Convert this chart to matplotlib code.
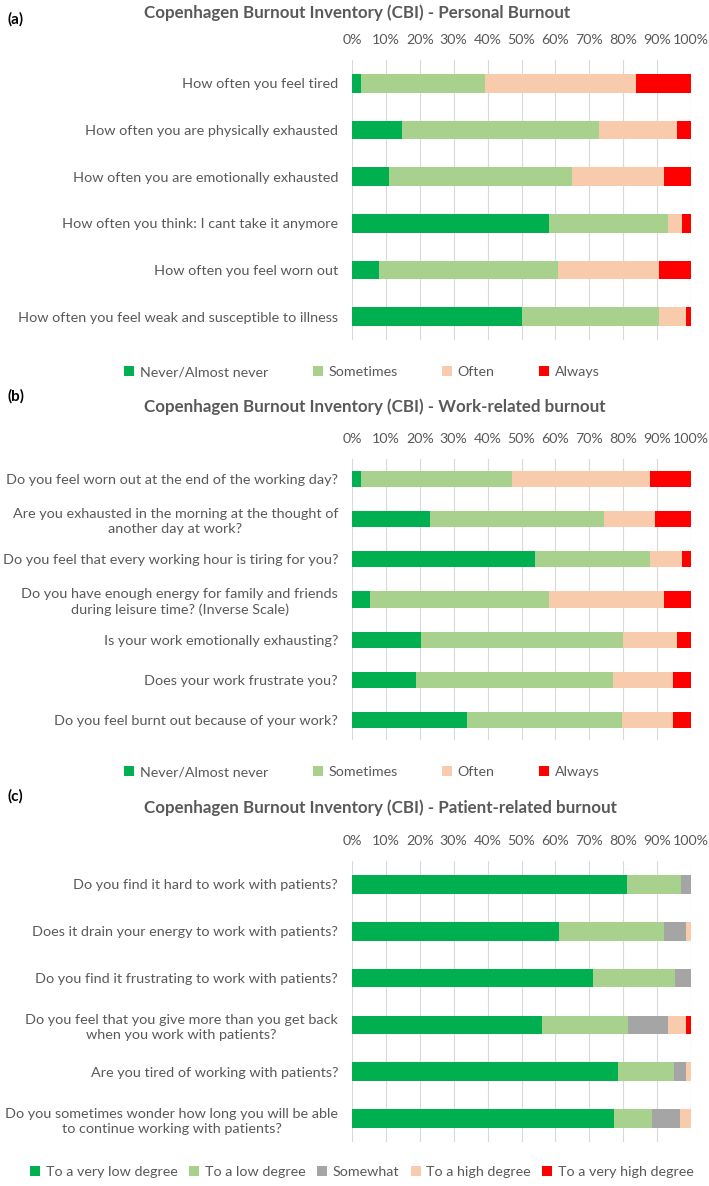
import numpy as np
import matplotlib as mpl
from matplotlib import pyplot as plt

plt.rcParams['font.family'] = ['Lato', 'DejaVu Sans']
txt = '#595959'

# panel (a) - personal burnout
q_a = ['How often you feel tired',
       'How often you are physically exhausted',
       'How often you are emotionally exhausted',
       'How often you think: I cant take it anymore',
       'How often you feel worn out',
       'How often you feel weak and susceptible to illness']
never_a = [2.7, 14.8, 10.8, 58.1, 8.1, 50.0]
some_a = [36.5, 58.1, 54.1, 35.1, 52.7, 40.5]
often_a = [44.6, 23.0, 27.0, 4.1, 29.7, 8.1]
always_a = [16.2, 4.1, 8.1, 2.7, 9.5, 1.4]

# panel (b) - work-related burnout
q_b = ['Do you feel worn out at the end of the working day?',
       'Are you exhausted in the morning at the thought of\nanother day at work?',
       'Do you feel that every working hour is tiring for you?',
       'Do you have enough energy for family and friends\nduring leisure time? (Inverse Scale)',
       'Is your work emotionally exhausting?',
       'Does your work frustrate you?',
       'Do you feel burnt out because of your work?']
never_b = [2.7, 23.0, 54.1, 5.4, 20.3, 18.9, 33.8]
some_b = [44.6, 51.4, 33.8, 52.7, 59.5, 58.1, 45.9]
often_b = [40.5, 14.9, 9.5, 33.8, 16.2, 17.6, 14.9]
always_b = [12.2, 10.8, 2.7, 8.1, 4.1, 5.4, 5.4]

# panel (c) - patient-related burnout
q_c = ['Do you find it hard to work with patients?',
       'Does it drain your energy to work with patients?',
       'Do you find it frustrating to work with patients?',
       'Do you feel that you give more than you get back\nwhen you work with patients?',
       'Are you tired of working with patients?',
       'Do you sometimes wonder how long you will be able\nto continue working with patients?']
vlow_c = [81.1, 61.0, 71.2, 55.9, 78.6, 77.2]
low_c = [16.0, 30.9, 24.1, 25.5, 16.4, 11.4]
somewhat_c = [2.9, 6.5, 4.7, 11.9, 3.4, 8.1]
high_c = [0.0, 1.6, 0.0, 5.1, 1.6, 3.3]
vhigh_c = [0.0, 0.0, 0.0, 1.6, 0.0, 0.0]

labels4 = ['Never/Almost never', 'Sometimes', 'Often', 'Always']
labels5 = ['To a very low degree', 'To a low degree', 'Somewhat',
           'To a high degree', 'To a very high degree']
cols4 = ['#00B050', '#A9D18E', '#F8CBAD', '#FF0000']
cols5 = ['#00B050', '#A9D18E', '#A5A5A5', '#F8CBAD', '#FF0000']

W, H = 709, 1186
fig = plt.figure(figsize=(W / 100, H / 100), dpi=100)

def px_axes(left, top, right, bottom):
    return fig.add_axes([left / W, 1 - bottom / H, (right - left) / W, (bottom - top) / H])

def panel(ax, questions, series, labels, colors, title, tag, title_y, tag_y, leg_y, colsp):
    y = np.arange(len(questions))
    left = np.zeros(len(questions))
    for vals, lab, c in zip(series, labels, colors):
        vals = np.array(vals)
        ax.barh(y, vals, left=left, height=0.4, color=c, label=lab, zorder=3)
        left = left + vals
    ax.set_xlim(0, 100)
    ax.set_ylim(len(questions) - 0.5, -0.5)
    ax.set_yticks(y)
    ax.set_yticklabels(questions, fontsize=10.4, color=txt)
    for t in ax.get_yticklabels():
        t.set_multialignment('center')
        t.set_linespacing(1.3)
    ax.xaxis.tick_top()
    ax.set_xticks(np.arange(0, 101, 10))
    ax.set_xticklabels([str(v) + '%' for v in range(0, 101, 10)], fontsize=10.3, color=txt)
    ax.tick_params(axis='both', length=0)
    ax.tick_params(axis='x', pad=10)
    ax.tick_params(axis='y', pad=10)
    ax.grid(axis='x', color='#D9D9D9', lw=0.8, zorder=0)
    ax.set_axisbelow(True)
    for s in ax.spines.values():
        s.set_visible(False)
    fig.text(144 / W, 1 - title_y / H, title, ha='left', va='center',
             fontsize=12.2, fontweight='bold', color=txt)
    fig.text(7 / W, 1 - tag_y / H, tag, ha='left', va='center',
             fontsize=11, fontweight='bold', color='black')
    ax.legend(loc='center', bbox_to_anchor=(362 / W, 1 - leg_y / H),
              bbox_transform=fig.transFigure, ncol=len(labels), frameon=False,
              fontsize=10.3, labelcolor=txt, handlelength=0.7, handleheight=0.7,
              handletextpad=0.4, columnspacing=colsp)

ax_a = px_axes(352, 60, 691, 340)
panel(ax_a, q_a, [never_a, some_a, often_a, always_a], labels4, cols4,
      'Copenhagen Burnout Inventory (CBI) - Personal Burnout', '(a)', 13, 19, 372, 3.1)

ax_b = px_axes(352, 459, 691, 740)
panel(ax_b, q_b, [never_b, some_b, often_b, always_b], labels4, cols4,
      'Copenhagen Burnout Inventory (CBI) - Work-related burnout', '(b)', 407, 396, 772, 3.1)

ax_c = px_axes(352, 861, 691, 1142)
panel(ax_c, q_c, [vlow_c, low_c, somewhat_c, high_c, vhigh_c], labels5, cols5,
      'Copenhagen Burnout Inventory (CBI) - Patient-related burnout', '(c)', 808, 796, 1172, 0.8)

fig.savefig('out.png', dpi=100)
